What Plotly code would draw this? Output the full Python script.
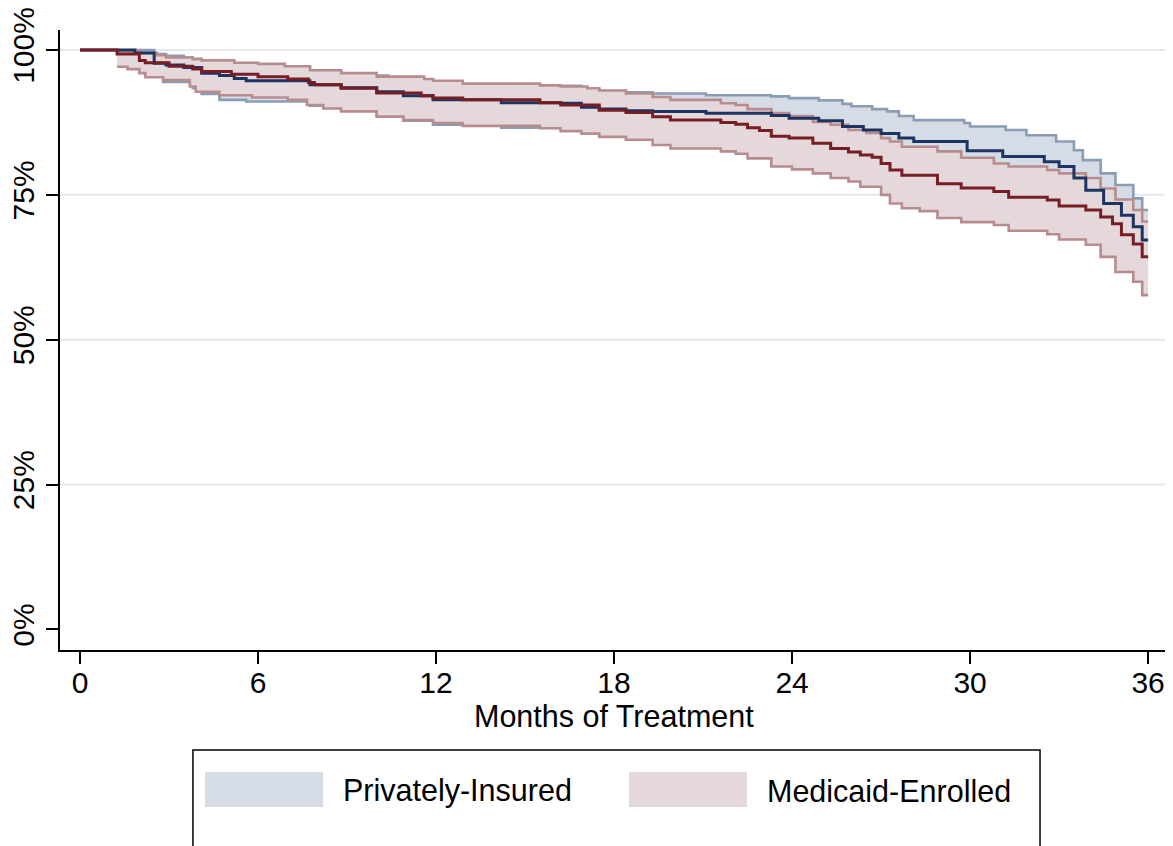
import plotly.graph_objects as go

# ---------------- data (months, survival %) ----------------
# Privately-Insured: Kaplan-Meier estimate
priv_km_t = [0, 1.85, 2.5, 2.9, 3.5, 4.1, 4.7, 5.2, 5.6, 7.75, 8.8, 10.0, 10.9, 11.9, 14.2, 16.2, 16.9,
             17.5, 18.4, 19.3, 21.1, 23.3, 23.9, 24.9, 25.7, 26.4, 27.0, 27.6, 28.1, 29.9, 31.1, 32.5,
             33.0, 33.5, 33.9, 34.5, 35.1, 35.5, 35.8, 36.0]
priv_km_v = [100, 99.5, 97.7, 97.4, 97.0, 96.0, 95.6, 95.1, 94.7, 94.0, 93.5, 92.8, 92.1, 91.4, 90.9, 90.8,
             90.1, 89.8, 89.5, 89.4, 89.1, 88.7, 88.2, 87.8, 86.8, 86.2, 85.6, 84.8, 84.2, 82.6, 81.6,
             80.7, 79.9, 77.9, 75.8, 73.5, 71.5, 69.5, 67.2, 67.2]

# Privately-Insured: upper confidence bound
priv_up_t = [1.85, 2.5, 2.9, 3.5, 3.8, 4.1, 4.7, 5.2, 5.6, 7.75, 8.8, 10.0, 10.4, 10.9, 11.9, 14.2, 15.5,
             16.2, 16.9, 17.5, 18.4, 19.3, 21.1, 23.3, 23.9, 24.9, 25.7, 26.0, 26.7, 27.2, 27.6, 28.1,
             29.8, 30.0, 31.2, 31.9, 32.9, 33.5, 33.8, 34.4, 34.9, 35.5, 35.8, 36.0]
priv_up_v = [100, 99.3, 99.0, 98.7, 98.5, 97.9, 97.6, 97.3, 97.0, 96.4, 95.9, 95.6, 95.2, 94.6, 94.0, 93.6,
             93.7, 93.8, 93.2, 92.9, 92.7, 92.5, 92.2, 92.0, 91.7, 91.3, 90.7, 90.3, 89.8, 89.4, 88.6,
             87.9, 87.4, 86.8, 86.2, 85.3, 84.2, 82.7, 81.0, 78.7, 76.7, 74.4, 72.4, 72.4]

# Privately-Insured: lower confidence bound
priv_lo_t = [1.85, 2.5, 2.8, 3.8, 4.1, 4.7, 5.6, 7.75, 8.8, 10.0, 10.9, 11.9, 14.2, 16.2, 16.9, 17.5,
             18.4, 19.3, 21.1, 23.3, 23.9, 24.9, 25.7, 26.4, 27.0, 27.6, 28.1, 29.9, 31.1, 32.5, 33.0,
             33.5, 33.9, 34.5, 35.1, 35.5, 35.8, 36.0]
priv_lo_v = [98.6, 96.0, 94.5, 93.4, 92.4, 91.4, 91.1, 90.4, 89.6, 88.7, 87.8, 87.1, 86.6, 86.3, 85.6, 85.2,
             84.9, 84.8, 84.4, 84.0, 83.5, 83.0, 81.9, 81.2, 80.5, 79.6, 78.9, 77.1, 76.0, 75.0, 74.1,
             71.9, 69.6, 67.1, 64.9, 62.7, 61.2, 61.2]

# Medicaid-Enrolled: Kaplan-Meier estimate
med_km_t = [0, 1.25, 2.0, 2.2, 3.0, 3.8, 4.1, 5.1, 6.0, 7.0, 7.7, 7.9, 8.8, 10.0, 11.5, 11.9, 12.9, 15.5,
            16.2, 17.5, 18.4, 19.3, 19.9, 21.6, 22.1, 22.5, 22.9, 23.3, 23.9, 24.7, 25.3, 25.9, 26.3,
            26.7, 27.0, 27.3, 27.7, 28.9, 29.7, 30.8, 31.3, 32.6, 33.0, 33.9, 34.4, 34.8, 35.1, 35.5,
            35.8, 36.0]
med_km_v = [100, 99.3, 98.2, 97.8, 97.2, 96.7, 96.3, 95.8, 95.4, 95.0, 94.4, 94.0, 93.4, 92.6, 92.1, 91.7,
            91.4, 90.9, 90.5, 89.6, 89.2, 88.5, 87.9, 87.5, 87.2, 86.6, 86.1, 85.1, 84.8, 83.9, 83.0,
            82.4, 81.9, 81.5, 80.4, 79.3, 78.4, 76.9, 76.2, 75.6, 74.6, 74.1, 73.1, 72.4, 71.2, 70.0,
            68.1, 66.5, 64.3, 64.3]

# Medicaid-Enrolled: upper confidence bound
med_up_t = [1.25, 2.0, 2.6, 2.9, 3.8, 4.1, 5.2, 6.0, 6.9, 7.75, 8.8, 10.0, 11.6, 11.9, 12.9, 15.5, 16.2,
            17.1, 17.5, 18.4, 19.3, 19.9, 21.6, 22.1, 22.5, 23.3, 23.9, 24.7, 25.3, 25.9, 26.5, 27.0,
            27.3, 27.7, 28.9, 29.7, 30.8, 31.3, 32.6, 33.0, 33.9, 34.4, 34.9, 35.5, 35.8, 36.0]
med_up_v = [99.8, 99.5, 99.1, 98.7, 98.4, 98.2, 97.8, 97.6, 97.2, 96.5, 96.0, 95.4, 95.0, 94.7, 94.2, 93.9,
            93.7, 93.4, 93.0, 92.5, 91.9, 91.4, 90.8, 90.5, 89.8, 89.1, 88.6, 87.6, 87.1, 86.2, 85.7,
            84.8, 84.2, 83.3, 82.5, 81.4, 80.4, 79.9, 79.3, 78.7, 77.9, 76.1, 74.2, 72.4, 70.4, 70.4]

# Medicaid-Enrolled: lower confidence bound
med_lo_t = [1.25, 1.6, 2.0, 2.2, 2.8, 3.7, 3.9, 4.7, 5.8, 7.0, 7.65, 8.2, 8.8, 10.0, 10.9, 11.9, 12.9,
            15.5, 16.2, 16.9, 17.5, 18.4, 19.3, 19.9, 21.6, 22.1, 22.5, 23.3, 24.0, 24.7, 25.3, 25.9,
            26.3, 27.0, 27.3, 27.7, 28.3, 28.9, 29.7, 30.8, 31.3, 32.6, 33.0, 33.9, 34.4, 34.9, 35.5,
            35.8, 36.0]
med_lo_v = [97.1, 96.7, 96.0, 95.3, 94.8, 93.7, 92.8, 92.2, 91.8, 91.4, 90.5, 89.9, 89.4, 88.5, 87.9, 87.4,
            86.9, 86.5, 86.0, 85.6, 85.0, 84.5, 83.6, 83.0, 82.5, 82.1, 81.3, 79.9, 79.4, 78.7, 77.9,
            77.3, 76.4, 75.0, 73.5, 72.7, 72.2, 71.0, 70.3, 69.8, 68.8, 68.2, 67.3, 66.4, 64.3, 61.7,
            60.0, 57.7, 57.7]

x_ticks = [0, 6, 12, 18, 24, 30, 36]
y_ticks = [0, 25, 50, 75, 100]
y_tick_labels = ["0%", "25%", "50%", "75%", "100%"]
grid_values = [25, 50, 75, 100]
legend_labels = ["Privately-Insured", "Medicaid-Enrolled"]
x_title = "Months of Treatment"

# ---------------- styles ----------------
FONT = "Liberation Sans, Arial, Helvetica, sans-serif"
PRIV_FILL = "rgb(214,220,229)"
PRIV_CI = "rgb(138,156,182)"
PRIV_KM = "rgb(28,52,98)"
MED_FILL = "rgb(229,216,218)"
MED_CI = "rgb(184,140,143)"
MED_KM = "rgb(118,30,36)"
GRID = "rgb(226,233,237)"

fig = go.Figure()

def band(t_lo, v_lo, t_up, v_up, fill, line):
    fig.add_trace(go.Scatter(x=t_lo, y=v_lo, mode="lines", line=dict(color=line, width=2.6, shape="hv"),
                             hoverinfo="skip", showlegend=False))
    fig.add_trace(go.Scatter(x=t_up, y=v_up, mode="lines", line=dict(color=line, width=2.6, shape="hv"),
                             fill="tonexty", fillcolor=fill, hoverinfo="skip", showlegend=False))

band(priv_lo_t, priv_lo_v, priv_up_t, priv_up_v, PRIV_FILL, PRIV_CI)
band(med_lo_t, med_lo_v, med_up_t, med_up_v, MED_FILL, MED_CI)

fig.add_trace(go.Scatter(x=priv_km_t, y=priv_km_v, mode="lines", name=legend_labels[0],
                         line=dict(color=PRIV_KM, width=3, shape="hv"), showlegend=False))
fig.add_trace(go.Scatter(x=med_km_t, y=med_km_v, mode="lines", name=legend_labels[1],
                         line=dict(color=MED_KM, width=3, shape="hv"), showlegend=False))

# horizontal grid lines
for g in grid_values:
    fig.add_shape(type="line", xref="paper", x0=0, x1=1, yref="y", y0=g, y1=g,
                  line=dict(color=GRID, width=2), layer="below")

# x-axis title
fig.add_annotation(xref="paper", yref="paper", x=0.5, y=-0.107, text=x_title, showarrow=False,
                   xanchor="center", yanchor="middle", font=dict(size=30.5, color="black", family=FONT))

# legend drawn as a box with swatches
fig.add_shape(type="rect", xref="paper", yref="paper", x0=0.120, x1=0.8845, y0=-0.1613, y1=-0.36,
              line=dict(color="black", width=1.5), fillcolor="white")
sw = [(0.1309, 0.2374, PRIV_FILL), (0.5135, 0.6200, MED_FILL)]
for (a, b, c), lab in zip(sw, legend_labels):
    fig.add_shape(type="rect", xref="paper", yref="paper", x0=a, x1=b, y0=-0.1968, y1=-0.2532,
                  line=dict(width=0), fillcolor=c)
    fig.add_annotation(xref="paper", yref="paper", x=b + 0.016, y=-0.227, text=lab, showarrow=False,
                       xanchor="left", yanchor="middle", font=dict(size=30.5, color="black", family=FONT))

# page has an 8px body margin, so the figure is sized to fit the window
fig.update_layout(
    width=1165, height=838,
    margin=dict(l=52, r=5, t=22, b=196, autoexpand=False),
    paper_bgcolor="white", plot_bgcolor="white",
    font=dict(family=FONT, size=30, color="black"),
    showlegend=False,
)
fig.update_xaxes(
    range=[-0.674, 36.67], tickvals=x_ticks, ticktext=[str(v) for v in x_ticks], automargin=False,
    showgrid=False, zeroline=False, showline=True, linecolor="black", linewidth=1.5,
    ticks="outside", ticklen=12, tickwidth=1.5, tickcolor="black", ticklabelstandoff=-7,
    ticklabeloverflow="allow",
    tickfont=dict(size=30, family=FONT, color="black"),
)
fig.update_yaxes(
    range=[-3.54, 103.45], tickvals=y_ticks, ticktext=y_tick_labels, tickangle=-90, automargin=False,
    showgrid=False, zeroline=False, showline=True, linecolor="black", linewidth=1.5,
    ticks="outside", ticklen=12, tickwidth=1.5, tickcolor="black", ticklabeloverflow="allow",
    tickfont=dict(size=30, family=FONT, color="black"),
)

fig.write_html("out.html")
